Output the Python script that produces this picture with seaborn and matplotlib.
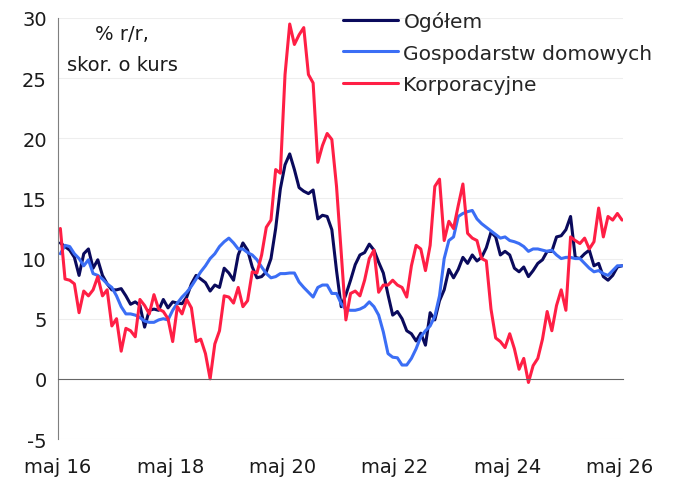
import numpy as np
import pandas as pd
import matplotlib
matplotlib.use("Agg")
import matplotlib.pyplot as plt
import seaborn as sns

# monthly data, maj 16 onward
ogolem = [11.3, 11.0, 10.7, 10.1, 8.6, 10.4, 10.8, 9.2, 9.9, 8.6,
          7.9, 7.4, 7.4, 7.5, 6.9, 6.2, 6.4, 6.1, 4.3, 5.7,
          5.8, 5.7, 6.6, 5.9, 6.4, 6.3, 6.25, 6.8, 7.9, 8.6,
          8.3, 8.0, 7.3, 7.8, 7.6, 9.2, 8.8, 8.2, 10.3, 11.3,
          10.7, 9.3, 8.4, 8.5, 8.9, 10.0, 12.5, 15.8, 17.8, 18.7,
          17.4, 15.9, 15.6, 15.4, 15.7, 13.3, 13.6, 13.5, 12.4, 9.0,
          6.0, 7.0, 8.2, 9.5, 10.3, 10.5, 11.2, 10.7, 9.7, 8.8,
          7.0, 5.3, 5.6, 5.0, 4.0, 3.75, 3.15, 3.8, 2.8, 5.5,
          4.9, 6.5, 7.4, 9.1, 8.4, 9.1, 10.1, 9.6, 10.3, 9.8,
          10.1, 10.9, 12.2, 11.8, 10.3, 10.6, 10.3, 9.2, 8.9, 9.3,
          8.5, 9.0, 9.6, 9.9, 10.6, 10.6, 11.8, 11.9, 12.4, 13.5,
          10.1, 10.0, 10.4, 10.7, 9.4, 9.6, 8.5, 8.2, 8.6, 9.3,
          9.4]

gospodarstwa = [10.4, 11.1, 11.0, 10.4, 10.0, 9.4, 9.9, 8.75, 8.6, 8.3,
                7.9, 7.6, 6.9, 6.0, 5.4, 5.4, 5.3, 5.1, 4.8, 4.7,
                4.7, 4.9, 5.0, 4.9, 5.7, 6.3, 6.8, 7.2, 7.7, 8.3,
                8.9, 9.4, 10.0, 10.4, 11.0, 11.4, 11.7, 11.3, 10.8, 10.8,
                10.5, 10.3, 9.9, 9.3, 8.75, 8.4, 8.5, 8.75, 8.75, 8.8,
                8.8, 8.05, 7.6, 7.2, 6.8, 7.6, 7.8, 7.8, 7.1, 7.1,
                6.25, 5.75, 5.7, 5.7, 5.8, 6.0, 6.4, 6.0, 5.3, 3.9,
                2.1, 1.8, 1.75, 1.15, 1.15, 1.7, 2.5, 3.5, 4.0, 4.4,
                5.2, 6.9, 10.0, 11.5, 11.8, 13.5, 13.75, 13.9, 14.0, 13.3,
                12.9, 12.6, 12.3, 12.0, 11.7, 11.8, 11.5, 11.4, 11.25, 11.0,
                10.6, 10.8, 10.8, 10.7, 10.6, 10.7, 10.3, 10.0, 10.1, 10.1,
                10.0, 10.0, 9.6, 9.2, 8.9, 9.0, 8.75, 8.6, 9.0, 9.4,
                9.4]

korporacyjne = [12.5, 8.3, 8.2, 7.9, 5.5, 7.3, 6.9, 7.4, 8.5, 6.9,
                7.4, 4.4, 5.0, 2.3, 4.2, 4.0, 3.5, 6.6, 6.1, 5.4,
                7.0, 5.8, 5.6, 5.0, 3.1, 6.0, 5.4, 6.6, 5.9, 3.1,
                3.3, 2.1, 0.0, 2.9, 4.0, 6.9, 6.8, 6.3, 7.6, 6.0,
                6.5, 8.9, 8.8, 10.3, 12.6, 13.2, 17.4, 17.1, 25.3, 29.5,
                27.8, 28.6, 29.2, 25.3, 24.6, 18.0, 19.4, 20.4, 19.9, 16.0,
                10.5, 4.9, 7.1, 7.3, 6.9, 8.2, 10.0, 10.7, 7.2, 7.8,
                7.8, 8.2, 7.8, 7.6, 6.8, 9.4, 11.1, 10.8, 9.0, 11.1,
                16.0, 16.6, 11.5, 13.1, 12.5, 14.4, 16.2, 12.1, 11.7, 11.5,
                10.0, 9.8, 5.8, 3.4, 3.1, 2.6, 3.75, 2.5, 0.8, 1.7,
                -0.3, 1.1, 1.7, 3.3, 5.6, 4.0, 6.1, 7.4, 5.7, 11.8,
                11.5, 11.25, 11.7, 10.8, 11.4, 14.2, 11.8, 13.5, 13.2, 13.75,
                13.2]

series_names = ["Ogółem", "Gospodarstw domowych", "Korporacyjne"]
colors = ["#0a0a5c", "#3b6ef5", "#ff1f45"]
tick_labels = ["maj 16", "maj 18", "maj 20", "maj 22", "maj 24", "maj 26"]
tick_months = [0, 24, 48, 72, 96, 120]

month = np.arange(len(ogolem)) + 0.5
df = pd.DataFrame({"m": month, "Ogółem": ogolem,
                   "Gospodarstw domowych": gospodarstwa,
                   "Korporacyjne": korporacyjne})
long = df.melt(id_vars="m", var_name="seria", value_name="val")

sns.set_style("white")
plt.rcParams["font.family"] = ["DejaVu Sans"]
plt.rcParams["font.size"] = 14
plt.rcParams["axes.unicode_minus"] = False

fig = plt.figure(figsize=(6.73, 4.81), dpi=100)
ax = fig.add_axes([58 / 673, 1 - 440 / 481, 565 / 673, 421 / 481])

sns.lineplot(data=long, x="m", y="val", hue="seria", hue_order=series_names,
             palette=colors, linewidth=2.2, ax=ax)

ax.set_xlim(0, 120.7)
ax.set_ylim(-5, 30)
ax.set_yticks(range(-5, 31, 5))
ax.set_xticks(tick_months)
ax.set_xticklabels(tick_labels)
ax.set_xlabel("")
ax.set_ylabel("")

for y in range(-5, 31, 5):
    if y != 0:
        ax.axhline(y, color="#eeeeee", lw=0.8, zorder=0)

for s in ["top", "right"]:
    ax.spines[s].set_visible(False)
ax.spines["left"].set_color("#7f7f7f")
ax.spines["bottom"].set_color("#666666")
ax.spines["bottom"].set_position(("data", 0))
ax.tick_params(axis="y", length=4, width=1, colors="#7f7f7f", labelcolor="#1a1a1a",
               pad=4, labelsize=14)
ax.tick_params(axis="x", length=4, width=1, colors="#666666", labelcolor="#1a1a1a",
               pad=52, labelsize=14)

ax.legend(loc="upper left", bbox_to_anchor=(343 / 673, 1 - 12 / 481),
          bbox_transform=fig.transFigure, frameon=False, fontsize=14.6,
          handlelength=2.7, handletextpad=0.28, labelspacing=0.62,
          borderpad=0, borderaxespad=0)

fig.text(122 / 673, 1 - 50 / 481, "% r/r,\nskor. o kurs", ha="center", va="center",
         fontsize=14, linespacing=1.75, color="#1a1a1a")

fig.savefig("out.png", dpi=100)
